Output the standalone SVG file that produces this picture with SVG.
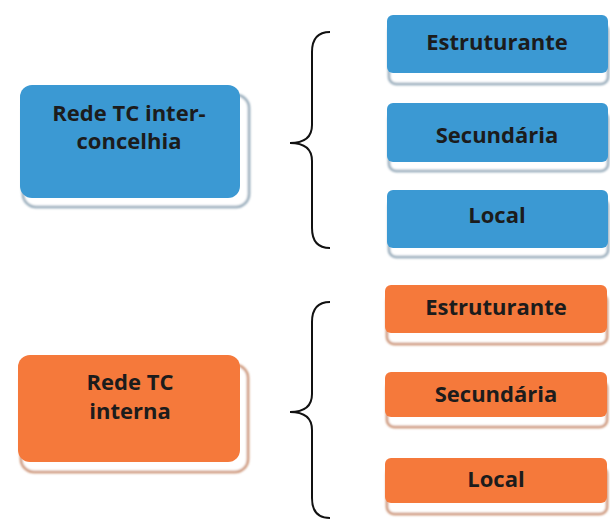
<svg xmlns="http://www.w3.org/2000/svg" width="610" height="519" viewBox="0 0 610 519">
  <style>
    .lbl { font-family: "Open Sans", "DejaVu Sans", sans-serif; font-weight: bold; font-size: 22px; fill: #1c1c1c; text-anchor: middle; }
    .blue { fill: #3b99d3; }
    .orange { fill: #f5793b; }
    .shB { fill: #ffffff; stroke: #8ea5b6; stroke-width: 2.5; }
    .shO { fill: #ffffff; stroke: #c98c6a; stroke-width: 2.5; }
    .brace { fill: none; stroke: #111111; stroke-width: 2; }
  </style>
  <defs>
    <filter id="soft" x="-10%" y="-10%" width="120%" height="130%">
      <feGaussianBlur stdDeviation="1.1"/>
    </filter>
  </defs>
  <rect width="610" height="519" fill="#ffffff"/>

  <!-- inter-municipal network -->
  <g id="rede-inter">
    <rect class="shB" x="23" y="95" width="226" height="112" rx="13" filter="url(#soft)"/>
    <rect class="blue" x="20" y="85" width="220" height="113" rx="12"/>
    <text class="lbl" x="129" y="121">Rede TC inter-</text>
    <text class="lbl" x="129" y="149">concelhia</text>
  </g>
  <g id="inter-estruturante">
    <rect class="shB" x="389" y="24" width="219" height="60" rx="7" filter="url(#soft)"/>
    <rect class="blue" x="387" y="15" width="221" height="58" rx="6"/>
    <text class="lbl" x="497" y="50">Estruturante</text>
  </g>
  <g id="inter-secundaria">
    <rect class="shB" x="389" y="112" width="219" height="59" rx="7" filter="url(#soft)"/>
    <rect class="blue" x="387" y="103" width="221" height="59" rx="6"/>
    <text class="lbl" x="497" y="143">Secundária</text>
  </g>
  <g id="inter-local">
    <rect class="shB" x="389" y="199" width="219" height="58" rx="7" filter="url(#soft)"/>
    <rect class="blue" x="387" y="190" width="221" height="58" rx="6"/>
    <text class="lbl" x="497" y="223">Local</text>
  </g>

  <!-- internal network -->
  <g id="rede-interna">
    <rect class="shO" x="21" y="365" width="227" height="107" rx="13" filter="url(#soft)"/>
    <rect class="orange" x="18" y="355" width="222" height="107" rx="12"/>
    <text class="lbl" x="130" y="390">Rede TC</text>
    <text class="lbl" x="130" y="419">interna</text>
  </g>
  <g id="interna-estruturante">
    <rect class="shO" x="387" y="294" width="220" height="50" rx="7" filter="url(#soft)"/>
    <rect class="orange" x="385" y="285" width="222" height="48" rx="6"/>
    <text class="lbl" x="496" y="315">Estruturante</text>
  </g>
  <g id="interna-secundaria">
    <rect class="shO" x="387" y="381" width="220" height="46" rx="7" filter="url(#soft)"/>
    <rect class="orange" x="385" y="372" width="222" height="45" rx="6"/>
    <text class="lbl" x="496" y="402">Secundária</text>
  </g>
  <g id="interna-local">
    <rect class="shO" x="387" y="467" width="220" height="47" rx="7" filter="url(#soft)"/>
    <rect class="orange" x="385" y="458" width="222" height="45" rx="6"/>
    <text class="lbl" x="496" y="487">Local</text>
  </g>

  <!-- braces -->
  <g id="connectors">
    <path class="brace" d="M330,32 Q312,32 312,52 L312,125 Q312,143 290,143 Q312,143 312,161 L312,228 Q312,248 330,248"/>
    <path class="brace" d="M330,302 Q312,302 312,322 L312,394 Q312,412 290,412 Q312,412 312,430 L312,498 Q312,518 330,518"/>
  </g>
</svg>
